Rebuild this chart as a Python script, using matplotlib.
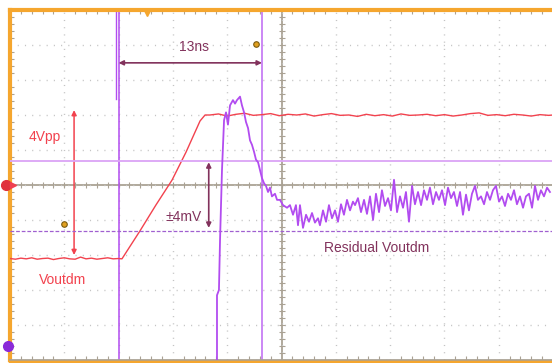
import numpy as np
import matplotlib
matplotlib.use("Agg")
import matplotlib.pyplot as plt
from matplotlib.lines import Line2D

plt.rcParams['font.family'] = ['Liberation Sans', 'DejaVu Sans']

# scope settings: 5 ns/div, CH1 (red) 1 V/div, CH2 (purple) 4 mV/div
ns_per_div = 5.0
ch1_v_per_div = 1.0
ch2_mv_per_div = 4.0

# --- red trace: Voutdm step (ns, V) ---
red_t = [0.0, 0.5, 1.0, 1.5, 2.0, 2.5, 3.0, 3.5, 4.0, 4.5, 5.0, 5.5, 6.0, 6.5,
         7.0, 7.5, 8.0, 8.5, 9.0, 9.5, 10.0, 10.31,
         11.14, 11.97, 13.44, 14.92, 16.21, 17.50, 17.96,
         18.4, 19.2, 20.0, 20.8, 21.6, 22.4, 23.2, 24.0, 24.8, 25.6, 26.4, 27.2,
         28.0, 28.8, 29.6, 30.4, 31.2, 32.0, 32.8, 33.6, 34.4, 35.2, 36.0, 36.8,
         37.6, 38.4, 39.2, 40.0, 40.8, 41.6, 42.4, 43.2, 44.0, 44.8, 45.6, 46.4,
         47.2, 48.0, 48.8, 49.6, 50.0]
red_v = [-2.10, -2.12, -2.09, -2.11, -2.08, -2.12, -2.10, -2.09, -2.13, -2.10,
         -2.08, -2.11, -2.12, -2.06, -2.11, -2.09, -2.12, -2.10, -2.08, -2.11,
         -2.10, -2.11,
         -1.71, -1.31, -0.57, 0.14, 0.94, 1.83, 2.00,
         2.00, 2.03, 1.97, 2.02, 2.05, 1.99, 2.01, 2.04, 1.98, 2.02, 2.00, 2.03,
         1.97, 2.01, 2.04, 1.99, 2.00, 1.96, 2.02, 1.98, 2.01, 1.97, 2.03, 1.99,
         2.00, 2.02, 1.98, 2.01, 1.97, 2.00, 2.04, 2.06, 1.99, 2.01, 1.98, 2.02,
         2.00, 1.97, 2.01, 1.99, 2.00]

# --- purple trace: residual Voutdm (ns, mV) ---
pur_t = [0.0, 19.06, 19.06, 19.24, 19.34, 19.52, 19.71, 19.89, 20.07, 20.26,
         20.53, 20.72, 20.90, 21.18, 21.36, 21.55, 21.73, 21.92, 22.10, 22.28,
         22.47, 22.65, 22.84, 23.02, 23.20, 23.39, 23.57, 23.76, 23.94, 24.12,
         24.40, 24.59, 24.86, 25.14, 25.51, 25.78, 26.06, 26.33, 26.52, 26.70,
         26.98, 27.26, 27.53, 27.81, 28.08, 28.36, 28.54, 28.82, 29.10, 29.37,
         29.65, 29.93, 30.20, 30.48, 30.75, 31.03, 31.31, 31.58, 31.77, 32.04,
         32.32, 32.60, 32.87, 33.15, 33.43, 33.70, 33.98, 34.25, 34.53, 34.81,
         35.08, 35.36, 35.64, 35.91, 36.19, 36.46, 36.74, 37.02, 37.29, 37.57,
         37.85, 38.12, 38.40, 38.67, 38.95, 39.23, 39.50, 39.78, 40.06, 40.33,
         40.61, 40.88, 41.16, 41.44, 41.71, 41.99, 42.26, 42.54, 42.82, 43.09,
         43.37, 43.65, 43.92, 44.20, 44.47, 44.75, 45.03, 45.30, 45.58, 45.86,
         46.13, 46.41, 46.68, 46.96, 47.24, 47.51, 47.79, 48.07, 48.34, 48.62,
         48.89, 49.17, 49.45, 49.72]
pur_mv = [-30.0, -30.0, -12.6, -12.0, -6.3, 1.7, 7.4, 8.3, 6.9, 9.1,
          9.7, 9.3, 9.7, 10.1, 9.1, 8.3, 7.2, 6.5, 5.1, 4.6,
          3.8, 2.9, 2.6, 1.7, 0.8, 0.2, -0.1, -0.8, -0.3, -1.3,
          -1.0, -1.7, -1.7, -2.3, -2.6, -2.3, -3.4, -2.3, -4.6, -2.3,
          -4.9, -3.4, -4.2, -3.2, -4.3, -3.8, -4.6, -2.9, -4.2, -2.3,
          -3.8, -2.9, -4.2, -2.2, -3.4, -1.7, -2.9, -1.9, -2.3, -1.5,
          -3.1, -1.7, -3.3, -1.3, -4.0, -1.0, -3.1, -0.6, -2.4, -1.5,
          -2.9, 0.6, -3.1, -1.3, -2.6, -0.8, -4.2, -0.1, -2.2, -0.8,
          -2.3, -0.6, -1.7, -0.3, -2.2, -0.8, -1.7, -0.6, -2.3, -0.3,
          -1.5, -0.8, -2.4, -0.8, -3.4, -1.1, -2.9, -1.0, -0.1, -1.7,
          -1.3, -2.2, -0.8, -1.7, -0.6, -0.1, -1.9, -1.3, -2.4, -1.0,
          -1.7, -0.6, -2.2, -1.3, -2.6, -1.3, -1.0, -2.6, -0.1, -1.7,
          -0.6, -1.3, -0.3, -0.8]

# cursors / reference levels
cursor_t = [10.0, 23.2]
band_center_mv = -1.2
band_half_mv = 4.0

RED = '#f2424e'
PURPLE = '#b24cf0'
PURPLE_LIGHT = '#dba4f6'
MAROON = '#82325c'
ORANGE = '#f5a62e'
GRID = '#c4c4c4'
CENTER = '#aaa294'

fig = plt.figure(figsize=(5.52, 3.63), dpi=100)
ax = fig.add_axes([10 / 552, 3 / 363, 543 / 552, 350 / 363])
ax.set_xlim(0, 10 * ns_per_div)
ax.set_ylim(-5 * ch1_v_per_div, 5 * ch1_v_per_div)
ax2 = ax.twinx()
ax2.set_ylim(-5 * ch2_mv_per_div, 5 * ch2_mv_per_div)

# graticule
ax.set_xticks(np.arange(0, 51, ns_per_div))
ax.set_yticks(np.arange(-5, 6, 1))
ax.set_xticks(np.arange(0, 50.01, ns_per_div / 5), minor=True)
ax.set_yticks(np.arange(-5, 5.01, 0.2), minor=True)
ax.grid(True, which='major', color=GRID, linestyle=(0, (0.8, 4.4)), linewidth=1.0)
ax.tick_params(which='both', direction='in', labelleft=False, labelbottom=False,
               top=True, right=False, colors=CENTER)
ax.tick_params(which='major', length=0)
ax.tick_params(which='minor', length=3, width=0.8)
ax2.set_yticks([])
ax.axvline(25, color=CENTER, lw=1.3, zorder=1)
ax.axhline(0, color=CENTER, lw=1.3, zorder=1)
ax.plot(np.arange(0, 50.01, 1.0), np.zeros(51), '|', color=CENTER, ms=4, mew=0.8)
ax.plot(np.full(51, 25.0), np.arange(-5, 5.01, 0.2), '_', color=CENTER, ms=5, mew=0.8)

for s in ['top', 'left']:
    ax.spines[s].set_color(ORANGE)
    ax.spines[s].set_linewidth(3)
ax.spines['bottom'].set_color(CENTER)
ax.spines['bottom'].set_linewidth(2)
for s in ['right']:
    ax.spines[s].set_visible(False)
for s in ax2.spines:
    ax2.spines[s].set_visible(False)
fig.add_artist(Line2D([10 / 552, 1], [1.2 / 363, 1.2 / 363], color=ORANGE, lw=2.5))

# reference levels and cursors
ax2.axhline(band_center_mv + band_half_mv, color=PURPLE_LIGHT, lw=1.3)
ax2.axhline(band_center_mv - band_half_mv, color='#a060d0', lw=0.9, ls=(0, (3, 1.5)))
ax.axvline(cursor_t[0], color=PURPLE, lw=1.1)
ax.axvline(cursor_t[1], color=PURPLE, lw=1.1, alpha=0.85)
ax.plot([cursor_t[0] - 0.2, cursor_t[0] - 0.2], [2.45, 5], color=PURPLE, lw=1.0)

# traces
ax.plot(red_t, red_v, color=RED, lw=1.0, zorder=4)
ax2.plot(pur_t, pur_mv, color=PURPLE, lw=1.3, zorder=5)

# annotations
arr = dict(arrowstyle='<|-|>', color=MAROON, lw=1.2, mutation_scale=7, shrinkA=0, shrinkB=0)
ax.annotate('', xy=(cursor_t[0], 3.49), xytext=(cursor_t[1], 3.49), arrowprops=arr)
ax.text(16.9, 3.94, '13ns', color=MAROON, fontsize=10, ha='center', va='center')
ax.annotate('', xy=(5.9, 2.14), xytext=(5.9, -2.0),
            arrowprops=dict(arr, color=RED, lw=1.1))
ax.text(3.2, 1.37, '4Vpp', color=RED, fontsize=10, ha='center', va='center')
ax2.annotate('', xy=(18.3, band_center_mv + band_half_mv - 0.2),
             xytext=(18.3, band_center_mv - band_half_mv + 0.3), arrowprops=arr)
ax.text(16.0, -0.91, '±4mV', color=MAROON, fontsize=10, ha='center', va='center')
ax.text(4.8, -2.71, 'Voutdm', color=RED, fontsize=10, ha='center', va='center')
ax.text(33.8, -1.80, 'Residual Voutdm', color=MAROON, fontsize=10, ha='center', va='center')

# markers
ax.plot([22.65, 4.97], [4.03, -1.11], 'o', color='#e0a020', mec='#7a5a10', ms=4, mew=0.8, zorder=6)
ax.plot([12.6], [4.92], 'v', color=ORANGE, ms=5, clip_on=False, zorder=6)
ax.plot([-0.35], [0.0], 'o', color='#e0303c', ms=7, clip_on=False, zorder=6)
ax.plot([0.25], [0.0], '>', color='#f04050', ms=4, clip_on=False, zorder=6)
ax.plot([-0.2], [-4.6], 'o', color='#8a2ad8', ms=7, clip_on=False, zorder=6)

fig.savefig('out.png', dpi=100)
